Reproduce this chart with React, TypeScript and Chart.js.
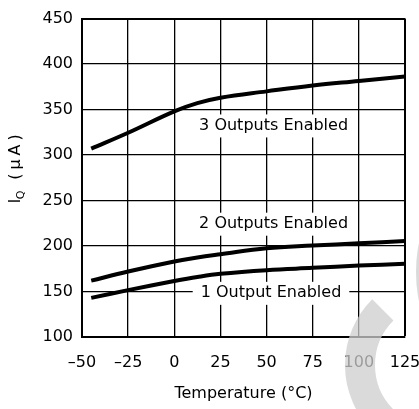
import React, { useEffect, useRef } from 'react';
import { Chart, registerables } from 'chart.js';

Chart.register(...registerables);

const FONT = '"DejaVu Sans", "Liberation Sans", sans-serif';

// Data
const temperatures = [-45, -25, 0, 12.5, 25, 50, 75, 100, 125];
const iq3Outputs = [307, 324.5, 348, 357, 363, 370, 376.5, 381.5, 386.5];
const iq2Outputs = [162, 172, 183, 187.5, 191, 197.5, 200.5, 203, 205.5];
const iq1Output = [143, 151.5, 161.5, 166, 169.5, 173.5, 176, 178.5, 180.5];

const xTicks = [-50, -25, 0, 25, 50, 75, 100, 125];
const yTicks = [100, 150, 200, 250, 300, 350, 400, 450];

const labelTexts = ['3 Outputs Enabled', '2 Outputs Enabled', '1 Output Enabled'];
const labelX = [53.8, 53.8, 52.4];
const labelY = [332, 224, 148];

const xTitle = 'Temperature (°C)';

const curveLabelPlugin = {
  id: 'curveLabels',
  beforeDatasetsDraw(chart: any) {
    const { ctx, scales } = chart;
    const xs = scales.x;
    const ys = scales.y;
    ctx.save();
    ctx.font = `16px ${FONT}`;
    ctx.textAlign = 'center';
    ctx.textBaseline = 'middle';
    labelTexts.forEach((t, i) => {
      const px = xs.getPixelForValue(labelX[i]);
      const py = ys.getPixelForValue(labelY[i]);
      const w = ctx.measureText(t).width;
      ctx.fillStyle = '#fff';
      ctx.fillRect(px - w / 2 - 8, py - 11.5, w + 16, 23);
      ctx.fillStyle = '#000';
      ctx.fillText(t, px, py);
    });
    ctx.restore();
  },
};

const yTitlePlugin = {
  id: 'yTitle',
  afterDraw(chart: any) {
    const ctx = chart.ctx;
    ctx.save();
    ctx.fillStyle = '#000';
    ctx.textBaseline = 'alphabetic';
    ctx.translate(20, 0);
    ctx.rotate(-Math.PI / 2);
    ctx.font = `15px ${FONT}`;
    ctx.textAlign = 'center';
    ctx.fillText('I', -201, 0);
    ctx.font = `11px ${FONT}`;
    ctx.fillText('Q', -195, 4);
    ctx.font = `16px ${FONT}`;
    (ctx as any).letterSpacing = '4px';
    ctx.textAlign = 'left';
    const s = '(μA)';
    const w = ctx.measureText(s).width;
    ctx.fillText(s, -157 - w / 2 + 2, 0);
    ctx.restore();
  },
};

const watermarkPlugin = {
  id: 'watermark',
  afterDraw(chart: any) {
    const ctx = chart.ctx;
    ctx.save();
    ctx.strokeStyle = 'rgba(205,205,205,0.75)';
    ctx.fillStyle = 'rgba(205,205,205,0.75)';
    ctx.lineWidth = 30;
    ctx.beginPath();
    ctx.arc(438, 365, 78, Math.PI * 0.75, Math.PI * 1.25);
    ctx.stroke();
    ctx.beginPath();
    ctx.ellipse(440, 272, 24, 60, 0, 0, Math.PI * 2);
    ctx.fill();
    ctx.restore();
  },
};

const makeSeries = (vals: number[]) => temperatures.map((t, i) => ({ x: t, y: vals[i] }));

export default function App() {
  const ref = useRef<HTMLCanvasElement>(null);

  useEffect(() => {
    if (!ref.current) return;
    const lineDs = (vals: number[]) => ({
      data: makeSeries(vals),
      borderColor: '#000',
      borderWidth: 4,
      pointRadius: 0,
      fill: false,
      tension: 0.4,
      borderCapStyle: 'butt' as const,
    });
    const gridWidth = (edge: number) => (c: any) => (c.tick && c.tick.value === edge ? 2 : 1.3);
    const fmt = (v: any) => String(v).replace('-', '\u2013');
    const chart = new Chart(ref.current, {
      type: 'line',
      data: {
        datasets: [lineDs(iq3Outputs), lineDs(iq2Outputs), lineDs(iq1Output)],
      },
      options: {
        animation: false,
        responsive: false,
        layout: { padding: { left: 0, right: 14, top: 14, bottom: 0 } },
        plugins: { legend: { display: false }, tooltip: { enabled: false } },
        scales: {
          x: {
            type: 'linear',
            min: -50,
            max: 125,
            afterBuildTicks: (s: any) => {
              s.ticks = xTicks.map((v) => ({ value: v }));
            },
            afterFit: (s: any) => {
              s.height = 72;
              s.paddingLeft = 0;
              s.paddingRight = 0;
            },
            grid: { color: '#000', lineWidth: gridWidth(125), drawTicks: false },
            border: { color: '#000', width: 2 },
            ticks: {
              color: '#000',
              font: { family: FONT, size: 16 },
              padding: 16,
              maxRotation: 0,
              autoSkip: false,
              callback: fmt,
            },
            title: {
              display: true,
              text: xTitle,
              color: '#000',
              font: { family: FONT, size: 16 },
              padding: { top: 0, bottom: 6 },
            },
          },
          y: {
            type: 'linear',
            min: 100,
            max: 450,
            afterBuildTicks: (s: any) => {
              s.ticks = yTicks.map((v) => ({ value: v }));
            },
            afterFit: (s: any) => {
              s.width = 82;
            },
            grid: { color: '#000', lineWidth: gridWidth(450), drawTicks: false },
            border: { color: '#000', width: 2 },
            ticks: {
              color: '#000',
              font: { family: FONT, size: 16 },
              padding: 9,
              autoSkip: false,
            },
          },
        },
      },
      plugins: [curveLabelPlugin, yTitlePlugin, watermarkPlugin],
    });
    return () => chart.destroy();
  }, []);

  return (
    <canvas
      ref={ref}
      width={419}
      height={409}
      style={{ position: 'absolute', left: 0, top: 0, width: 419, height: 409, display: 'block' }}
    />
  );
}
